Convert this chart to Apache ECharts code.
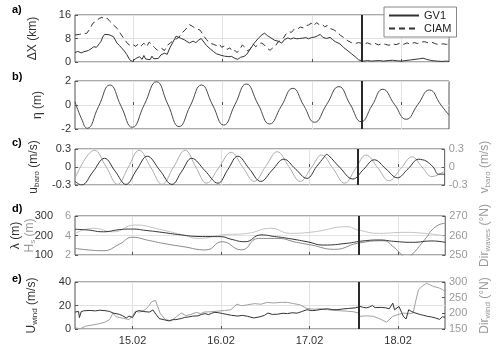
<!DOCTYPE html>
<html><head><meta charset="utf-8">
<script src="https://cdn.jsdelivr.net/npm/echarts@6/dist/echarts.min.js"></script>
<style>html,body{margin:0;padding:0;background:#fff}#c{width:500px;height:349px}</style>
</head><body><div id="c"></div>
<script>
const dayTicks = [15, 16, 17, 18];
const xMin = 14.35, xMax = 18.53;
const cutDay = 17.55;
const panelLetters = ['a)', 'b)', 'c)', 'd)', 'e)'];

// a) Delta X (km)
const gv1 = [[14.35,3.2],[14.38,3.6],[14.42,3.1],[14.45,3.5],[14.50,3.9],[14.53,4.5],[14.56,5.2],[14.59,5.0],[14.62,6.2],[14.64,7.0],[14.66,8.5],[14.68,9.4],[14.70,10.0],[14.73,9.3],[14.75,9.6],[14.78,8.6],[14.82,6.4],[14.85,5.5],[14.90,3.8],[14.93,2.5],[14.96,0.8],[14.99,0.2],[15.01,0.6],[15.03,1.2],[15.05,0.6],[15.07,1.8],[15.10,0.9],[15.12,2.2],[15.14,1.0],[15.16,1.6],[15.19,0.8],[15.21,2.0],[15.23,1.1],[15.25,1.7],[15.28,1.2],[15.31,2.4],[15.35,3.0],[15.38,2.6],[15.41,4.8],[15.44,6.5],[15.48,8.8],[15.50,8.6],[15.53,8.1],[15.57,7.6],[15.60,7.0],[15.63,6.5],[15.67,7.1],[15.70,6.6],[15.73,7.4],[15.76,8.0],[15.79,6.8],[15.82,5.6],[15.86,4.5],[15.90,3.5],[15.93,2.8],[15.98,2.3],[16.02,2.0],[16.07,1.8],[16.10,1.9],[16.14,1.2],[16.17,0.9],[16.20,1.6],[16.24,1.9],[16.27,2.6],[16.30,4.0],[16.35,6.3],[16.40,8.1],[16.44,9.3],[16.47,9.8],[16.50,9.0],[16.54,8.2],[16.58,7.4],[16.63,7.0],[16.66,6.4],[16.69,7.6],[16.73,8.2],[16.76,7.8],[16.79,8.2],[16.83,7.9],[16.86,8.0],[16.89,8.1],[16.93,8.3],[16.96,7.9],[16.99,8.3],[17.03,8.5],[17.06,8.9],[17.09,9.4],[17.12,8.4],[17.14,9.0],[17.16,8.0],[17.20,8.4],[17.23,7.6],[17.26,6.9],[17.31,6.2],[17.35,5.0],[17.40,3.8],[17.44,2.8],[17.49,1.6],[17.52,0.7],[17.54,0.2],[17.58,0.3],[17.62,0.5],[17.66,0.3],[17.70,0.4],[17.75,0.5],[17.80,0.3],[17.85,0.5],[17.90,0.6],[17.95,0.4],[18.00,0.3],[18.05,0.5],[18.10,0.7],[18.15,0.9],[18.20,1.1],[18.24,1.3],[18.28,0.9],[18.32,0.6],[18.36,0.4],[18.40,0.3],[18.45,0.2],[18.50,0.3],[18.53,0.2]];
const ciam = [[14.35,9.2],[14.40,9.4],[14.45,9.8],[14.48,9.7],[14.51,11.0],[14.55,13.2],[14.58,13.8],[14.62,14.8],[14.65,15.2],[14.68,14.6],[14.71,14.9],[14.74,13.8],[14.78,12.6],[14.82,11.5],[14.86,9.6],[14.90,7.8],[14.94,6.2],[14.97,5.6],[15.00,5.9],[15.03,5.3],[15.06,6.3],[15.09,5.5],[15.12,6.4],[15.15,5.2],[15.18,6.8],[15.21,5.9],[15.24,4.9],[15.27,4.0],[15.29,3.5],[15.32,4.6],[15.35,3.9],[15.38,5.6],[15.42,6.6],[15.45,7.3],[15.48,7.8],[15.51,8.4],[15.55,10.0],[15.59,11.2],[15.63,12.7],[15.66,12.2],[15.69,11.6],[15.72,11.2],[15.75,10.8],[15.78,9.3],[15.82,7.6],[15.86,6.4],[15.90,6.0],[15.93,5.6],[15.96,6.2],[15.99,5.0],[16.02,5.5],[16.05,4.3],[16.08,4.8],[16.11,3.6],[16.14,3.9],[16.16,3.2],[16.19,4.2],[16.22,5.8],[16.25,5.0],[16.28,3.8],[16.31,4.5],[16.34,6.2],[16.37,5.2],[16.40,6.0],[16.43,6.5],[16.46,6.0],[16.50,4.6],[16.53,4.0],[16.56,4.8],[16.59,5.5],[16.62,6.8],[16.65,7.4],[16.68,8.2],[16.71,9.6],[16.74,10.3],[16.77,10.1],[16.80,11.2],[16.84,11.3],[16.87,11.9],[16.90,11.6],[16.93,12.3],[16.96,12.6],[16.99,13.2],[17.02,12.4],[17.05,13.4],[17.08,12.7],[17.11,12.9],[17.14,12.0],[17.17,12.4],[17.20,11.4],[17.24,11.0],[17.28,10.2],[17.32,9.0],[17.36,8.2],[17.40,7.2],[17.44,6.6],[17.48,6.3],[17.52,6.6],[17.55,6.4],[17.58,6.2],[17.62,6.5],[17.66,6.0],[17.70,6.4],[17.74,5.8],[17.78,6.3],[17.82,6.0],[17.86,5.7],[17.90,6.2],[17.94,5.9],[17.98,6.4],[18.02,6.0],[18.06,6.5],[18.10,6.1],[18.14,6.6],[18.18,6.3],[18.22,6.8],[18.26,6.9],[18.30,6.5],[18.34,6.7],[18.38,6.2],[18.42,5.9],[18.46,6.2],[18.50,6.0],[18.53,6.1]];

// b) eta (m)
const eta = [[14.35,0.28],[14.42,-1.1],[14.486,-1.94],[14.613,-0.13],[14.74,1.67],[14.865,-0.1],[14.99,-1.86],[15.125,0.04],[15.261,1.94],[15.387,0.07],[15.513,-1.8],[15.638,-0.07],[15.763,1.67],[15.888,0.0],[16.012,-1.67],[16.138,0.04],[16.265,1.75],[16.395,0.08],[16.525,-1.58],[16.655,-0.1],[16.785,1.39],[16.906,-0.03],[17.027,-1.44],[17.163,0.05],[17.299,1.53],[17.424,0.07],[17.549,-1.39],[17.67,-0.04],[17.79,1.31],[17.92,0.06],[18.051,-1.19],[18.181,0.03],[18.311,1.25],[18.44,0.0],[18.53,-0.85]];

// c) u_baro, v_baro (m/s)
const uBaro = [[14.35,-0.24],[14.424,-0.30],[14.553,-0.08],[14.684,0.145],[14.804,-0.07],[14.926,-0.29],[15.047,-0.05],[15.167,0.18],[15.307,-0.05],[15.446,-0.29],[15.558,-0.07],[15.669,0.145],[15.819,-0.06],[15.967,-0.27],[16.079,-0.04],[16.191,0.18],[16.321,-0.03],[16.451,-0.24],[16.581,-0.05],[16.712,0.13],[16.841,-0.03],[16.972,-0.19],[17.083,0.01],[17.17,0.17],[17.195,0.21],[17.22,0.19],[17.34,0.0],[17.493,-0.20],[17.613,-0.04],[17.734,0.12],[17.865,-0.03],[17.995,-0.18],[18.116,-0.03],[18.236,0.13],[18.28,0.12],[18.32,0.10],[18.40,0.0],[18.46,-0.12],[18.53,-0.12]];
const vBaro = [[14.35,-0.19],[14.572,0.28],[14.703,0.0],[14.832,-0.29],[14.954,0.0],[15.075,0.28],[15.205,0.0],[15.335,-0.29],[15.465,0.0],[15.596,0.28],[15.716,0.0],[15.837,-0.27],[15.976,-0.01],[16.116,0.245],[16.246,0.0],[16.377,-0.24],[16.506,0.01],[16.637,0.255],[16.767,0.01],[16.897,-0.24],[17.019,-0.02],[17.139,0.20],[17.27,-0.03],[17.399,-0.27],[17.521,-0.03],[17.641,0.20],[17.772,-0.01],[17.901,-0.23],[18.032,-0.03],[18.163,0.17],[18.274,0.0],[18.386,-0.16],[18.53,-0.07]];

// d) lambda (m), Hs (m), Dir_waves (deg N)
const lambda = [[14.35,232],[14.50,228],[14.67,219],[14.85,230],[15.0,233],[15.15,226],[15.3,218],[15.55,203],[15.75,195],[16.0,194],[16.11,181],[16.27,168],[16.45,203],[16.6,195],[16.76,185],[16.97,168],[17.16,151],[17.42,160],[17.6,172],[17.79,177],[17.95,170],[18.16,165],[18.38,172],[18.53,165]];
const hs = [[14.35,4.22],[14.56,4.74],[14.78,4.38],[15.03,5.08],[15.30,4.64],[15.55,4.1],[15.75,3.7],[16.01,4.06],[16.30,4.22],[16.56,4.74],[16.78,4.22],[17.05,4.38],[17.42,4.9],[17.55,4.56],[17.79,4.22],[18.05,4.32],[18.30,4.22],[18.53,3.94]];
const dirWaves = [[14.35,253.4],[14.50,252.6],[14.67,252.2],[14.85,255.5],[15.0,259.1],[15.18,257.5],[15.34,256.0],[15.57,254.3],[15.83,252.6],[16.01,256.8],[16.23,252.6],[16.42,258.5],[16.64,258.5],[16.85,256.5],[17.02,255.1],[17.28,252.9],[17.54,256.0],[17.83,257.3],[17.95,254.0],[18.03,250.5],[18.10,248.5],[18.16,250.5],[18.30,258],[18.42,264.5],[18.53,266.3]];

// e) U_wind (m/s), Dir_wind (deg N)
const uWind = [[14.35,14.4],[14.39,15.0],[14.40,9.7],[14.42,14.8],[14.45,15.5],[14.52,15.8],[14.58,15.4],[14.63,16.0],[14.69,15.6],[14.74,15.0],[14.78,13.6],[14.85,12.5],[14.89,11.2],[14.93,9.4],[14.96,11.0],[15.00,9.8],[15.04,14.8],[15.07,15.7],[15.12,14.9],[15.19,14.4],[15.23,16.2],[15.27,12.0],[15.30,8.9],[15.36,7.8],[15.41,6.9],[15.45,7.9],[15.49,8.0],[15.55,8.9],[15.59,9.9],[15.63,10.2],[15.68,10.9],[15.74,11.2],[15.78,12.4],[15.82,13.1],[15.86,12.2],[15.89,13.3],[15.93,14.2],[15.97,13.9],[16.02,13.1],[16.06,12.5],[16.12,11.6],[16.19,11.0],[16.24,11.6],[16.30,10.8],[16.37,9.4],[16.44,10.4],[16.49,11.6],[16.53,13.6],[16.58,12.4],[16.64,12.6],[16.70,13.4],[16.75,13.1],[16.80,13.8],[16.86,13.5],[16.91,14.8],[16.97,16.4],[17.03,15.6],[17.08,16.0],[17.14,16.8],[17.20,17.2],[17.26,16.5],[17.31,16.4],[17.37,17.0],[17.44,17.5],[17.52,18.0],[17.57,19.2],[17.61,18.3],[17.64,18.0],[17.68,18.8],[17.71,20.0],[17.74,18.2],[17.76,17.6],[17.81,18.4],[17.86,18.0],[17.90,17.2],[17.94,22.0],[17.96,16.4],[18.01,19.2],[18.04,14.0],[18.06,10.8],[18.09,8.5],[18.12,16.4],[18.15,15.0],[18.18,14.0],[18.25,12.3],[18.29,11.6],[18.33,10.8],[18.38,10.2],[18.42,9.4],[18.47,8.2],[18.50,10.4],[18.53,10.0]];
const dirWind = [[14.35,154.9],[14.40,150.0],[14.47,159.0],[14.55,163.0],[14.63,167.3],[14.69,172.0],[14.74,180.0],[14.78,201.0],[14.81,190.0],[14.85,186.8],[14.90,184.0],[14.96,180.0],[15.00,192.0],[15.03,206.3],[15.08,204.0],[15.14,211.5],[15.18,222.0],[15.22,237.8],[15.26,240.8],[15.28,225.0],[15.31,201.0],[15.37,180.0],[15.44,175.9],[15.50,190.0],[15.55,201.0],[15.60,193.0],[15.66,196.1],[15.72,203.0],[15.77,199.0],[15.81,204.0],[15.88,205.0],[15.96,207.0],[16.04,209.0],[16.11,211.5],[16.15,222.0],[16.18,229.5],[16.23,224.0],[16.30,227.3],[16.38,231.0],[16.45,229.0],[16.52,234.8],[16.60,233.0],[16.68,235.0],[16.75,234.8],[16.82,231.0],[16.89,227.3],[16.94,220.0],[16.97,215.6],[17.05,213.0],[17.12,214.5],[17.20,211.5],[17.30,209.0],[17.42,207.0],[17.50,205.0],[17.55,201.0],[17.57,190.5],[17.64,192.0],[17.72,190.5],[17.78,184.0],[17.84,176.0],[17.87,171.8],[17.91,182.0],[17.94,190.5],[18.00,196.0],[18.06,201.0],[18.12,199.0],[18.17,201.0],[18.20,240.0],[18.23,274.9],[18.27,286.0],[18.32,295.9],[18.36,291.0],[18.40,285.4],[18.44,283.0],[18.47,280.1],[18.50,276.0],[18.53,269.6]];

const FONT = '"Liberation Sans", Arial, sans-serif';
const DARK = '#333333', LIGHT = '#ababab', MID = '#8a8a8a';
const grids = [
  {top: 15, height: 47}, {top: 81, height: 48}, {top: 149, height: 36},
  {top: 216, height: 39}, {top: 282, height: 47}
].map(g => Object.assign({left: 75, width: 374, show: true, borderColor: '#555', borderWidth: 1, backgroundColor: 'transparent'}, g));

const xAxes = grids.map((g, i) => ({
  type: 'value', gridIndex: i, min: xMin, max: xMax,
  axisLine: {show: false},
  axisTick: {show: true, inside: true, length: 3, lineStyle: {color: '#555'}, customValues: dayTicks},
  axisLabel: {show: i === 4, customValues: dayTicks, fontFamily: FONT, fontSize: 11, color: '#333', margin: 6,
    formatter: v => Math.round(v) + '.02'},
  splitLine: {show: true, lineStyle: {color: '#e2e2e2', width: 1}}
}));

const rich = (col) => ({
  n: {fontFamily: FONT, fontSize: 12, color: col},
  s: {fontFamily: FONT, fontSize: 8, color: col, padding: [7, 0, 0, 0]}
});

function yAx(o) {
  const col = o.color || '#333';
  return {
    type: 'value', gridIndex: o.grid, position: o.pos || 'left', offset: o.offset || 0,
    min: o.min, max: o.max, interval: o.interval,
    name: o.name, nameLocation: 'middle', nameGap: o.gap, nameRotate: 90,
    nameTextStyle: {fontFamily: FONT, fontSize: 12, color: col, rich: rich(col)},
    axisLine: {show: false},
    axisTick: {show: !o.noTick, inside: true, length: 3, lineStyle: {color: '#555'}},
    axisLabel: {fontFamily: FONT, fontSize: 11, color: col, margin: o.margin || 4},
    splitLine: {show: !!o.split, lineStyle: {color: '#e2e2e2', width: 1}}
  };
}

const yAxes = [
  yAx({grid: 0, min: 0, max: 16, interval: 8, name: 'ΔX (km)', gap: 36, split: true}),
  yAx({grid: 1, min: -2, max: 2, interval: 2, name: 'η (m)', gap: 31, split: true}),
  yAx({grid: 2, min: -0.3, max: 0.3, interval: 0.3, name: '{n|u}{s|baro}{n| (m/s)}', gap: 34, split: true}),
  yAx({grid: 2, pos: 'right', min: -0.3, max: 0.3, interval: 0.3, name: '{n|v}{s|baro}{n| (m/s)}', gap: 30, color: '#9a9a9a'}),
  yAx({grid: 3, min: 2, max: 6, interval: 2, name: '{n|H}{s|s}{n| (m)}', gap: 38, color: '#9a9a9a', split: true}),
  yAx({grid: 3, offset: 18, min: 100, max: 300, interval: 100, name: 'λ (m)', gap: 35, noTick: true}),
  yAx({grid: 3, pos: 'right', min: 250, max: 270, interval: 10, name: '{n|Dir}{s|waves}{n| (°N)}', gap: 30, color: '#9a9a9a'}),
  yAx({grid: 4, min: 0, max: 40, interval: 20, name: '{n|U}{s|wind}{n| (m/s)}', gap: 36, split: true}),
  yAx({grid: 4, pos: 'right', min: 150, max: 300, interval: 50, name: '{n|Dir}{s|wind}{n| (°N)}', gap: 32, color: '#9a9a9a'})
];

const cutLine = {
  silent: true, symbol: ['none', 'none'], label: {show: false},
  lineStyle: {color: '#2a2a2a', width: 2, type: 'solid'}, emphasis: {disabled: true},
  data: [{xAxis: cutDay}]
};

function line(name, data, xi, yi, color, extra) {
  return Object.assign({
    name, type: 'line', data, xAxisIndex: xi, yAxisIndex: yi, symbol: 'none', showSymbol: false,
    lineStyle: {color, width: 1}, itemStyle: {color}, animation: false, silent: true, clip: true
  }, extra || {});
}

const series = [
  line('GV1', gv1, 0, 0, DARK, {markLine: cutLine}),
  line('CIAM', ciam, 0, 0, DARK, {lineStyle: {color: DARK, width: 1, type: [6, 4]}}),
  line('eta', eta, 1, 1, '#4a4a4a', {smooth: 0.5, markLine: cutLine}),
  line('vbaro', vBaro, 2, 3, LIGHT, {smooth: 0.4}),
  line('ubaro', uBaro, 2, 2, DARK, {smooth: 0.4, markLine: cutLine}),
  line('dirw', dirWaves, 3, 6, MID, {smooth: 0.5}),
  line('hs', hs, 3, 4, '#c4c4c4', {smooth: 0.5}),
  line('lambda', lambda, 3, 5, DARK, {smooth: 0.5, markLine: cutLine}),
  line('dirwind', dirWind, 4, 8, '#a0a0a0'),
  line('uwind', uWind, 4, 7, DARK, {markLine: cutLine})
];

const letterTops = [4, 71, 137, 203, 273];
const graphic = panelLetters.map((t, i) => ({
  type: 'text', left: 12, top: letterTops[i],
  style: {text: t, font: 'bold 11px ' + FONT, fill: '#000'}
}));

const chart = echarts.init(document.getElementById('c'), null, {renderer: 'canvas'});
chart.setOption({
  animation: false,
  backgroundColor: '#fff',
  grid: grids, xAxis: xAxes, yAxis: yAxes, series, graphic,
  legend: {
    data: ['GV1', 'CIAM'], orient: 'vertical', left: 384, top: 7, width: 65,
    itemWidth: 30, itemHeight: 10, itemGap: 2, padding: [3, 5, 3, 4],
    itemStyle: {opacity: 0},
    backgroundColor: '#fff', borderColor: '#888', borderWidth: 1,
    textStyle: {fontFamily: FONT, fontSize: 11, color: '#222'}
  }
});
</script></body></html>
